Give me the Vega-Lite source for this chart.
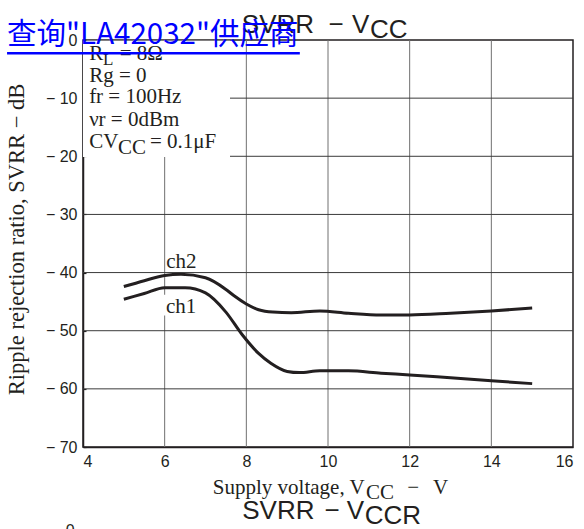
{
  "$schema": "https://vega.github.io/schema/vega-lite/v6.json",
  "width": 490,
  "height": 407,
  "autosize": {"type": "none"},
  "padding": {"left": 83, "top": 40, "right": 11, "bottom": 82},
  "background": "white",
  "config": {
    "view": {"stroke": "#231f20", "strokeWidth": 1.5},
    "axis": {"zindex": 1}
  },
  "data": {"values": [{}]},
  "datasets": {
    "curves": [
      {"ch": "ch2", "V": 5.0, "SVRR": -42.4},
      {"ch": "ch2", "V": 5.5, "SVRR": -41.4},
      {"ch": "ch2", "V": 6.0, "SVRR": -40.5},
      {"ch": "ch2", "V": 6.4, "SVRR": -40.3},
      {"ch": "ch2", "V": 7.0, "SVRR": -40.9},
      {"ch": "ch2", "V": 7.5, "SVRR": -42.9},
      {"ch": "ch2", "V": 7.7, "SVRR": -44.0},
      {"ch": "ch2", "V": 8.0, "SVRR": -45.4},
      {"ch": "ch2", "V": 8.3, "SVRR": -46.4},
      {"ch": "ch2", "V": 8.65, "SVRR": -46.8},
      {"ch": "ch2", "V": 9.1, "SVRR": -46.9},
      {"ch": "ch2", "V": 9.8, "SVRR": -46.6},
      {"ch": "ch2", "V": 10.5, "SVRR": -47.0},
      {"ch": "ch2", "V": 11.3, "SVRR": -47.3},
      {"ch": "ch2", "V": 12.0, "SVRR": -47.3},
      {"ch": "ch2", "V": 13.0, "SVRR": -47.0},
      {"ch": "ch2", "V": 14.0, "SVRR": -46.6},
      {"ch": "ch2", "V": 15.0, "SVRR": -46.1},
      {"ch": "ch1", "V": 5.0, "SVRR": -44.6},
      {"ch": "ch1", "V": 5.5, "SVRR": -43.6},
      {"ch": "ch1", "V": 6.0, "SVRR": -42.6},
      {"ch": "ch1", "V": 6.5, "SVRR": -42.6},
      {"ch": "ch1", "V": 7.0, "SVRR": -43.5},
      {"ch": "ch1", "V": 7.5, "SVRR": -46.8},
      {"ch": "ch1", "V": 7.9, "SVRR": -50.7},
      {"ch": "ch1", "V": 8.3, "SVRR": -53.9},
      {"ch": "ch1", "V": 8.6, "SVRR": -55.6},
      {"ch": "ch1", "V": 9.0, "SVRR": -57.0},
      {"ch": "ch1", "V": 9.3, "SVRR": -57.2},
      {"ch": "ch1", "V": 9.8, "SVRR": -56.9},
      {"ch": "ch1", "V": 10.5, "SVRR": -56.9},
      {"ch": "ch1", "V": 11.3, "SVRR": -57.3},
      {"ch": "ch1", "V": 12.0, "SVRR": -57.6},
      {"ch": "ch1", "V": 13.0, "SVRR": -58.1},
      {"ch": "ch1", "V": 14.0, "SVRR": -58.6},
      {"ch": "ch1", "V": 15.0, "SVRR": -59.1}
    ],
    "vgrid": [{"v": 6}, {"v": 8}, {"v": 10}, {"v": 12}, {"v": 14}],
    "hgrid": [{"v": -10}, {"v": -20}, {"v": -30}, {"v": -40}, {"v": -50}, {"v": -60}]
  },
  "layer": [
    {
      "data": {"name": "vgrid"},
      "mark": {"type": "rule", "color": "#707070", "strokeWidth": 1},
      "encoding": {
        "x": {"field": "v", "type": "quantitative", "title": null,
          "scale": {"domain": [4, 16], "nice": false, "zero": false},
          "axis": {"values": [4, 6, 8, 10, 12, 14, 16], "grid": false, "ticks": false,
            "domainColor": "#231f20", "domainWidth": 1.5, "labelFont": "Liberation Sans",
            "labelFontSize": 16, "labelColor": "#231f20", "labelPadding": 6, "title": null}}
      }
    },
    {
      "data": {"name": "hgrid"},
      "mark": {"type": "rule", "color": "#3a3a3a", "strokeWidth": 1},
      "encoding": {
        "y": {"field": "v", "type": "quantitative",
          "scale": {"domain": [-70, 0], "nice": false, "zero": false},
          "axis": {"values": [-70, -60, -50, -40, -30, -20, -10, 0], "grid": false,
            "tickSize": -3, "tickColor": "#231f20", "tickWidth": 1.2,
            "domainColor": "#231f20", "domainWidth": 1.5,
            "labelFont": "Liberation Sans", "labelFontSize": 16, "labelColor": "#231f20",
            "labelPadding": 9,
            "labelExpr": "datum.value == 0 ? '0' : '− ' + (-datum.value)",
            "title": "Ripple rejection ratio, SVRR    −    dB",
            "titleFont": "Liberation Serif", "titleFontSize": 22.5, "titleFontWeight": "normal",
            "titleColor": "#231f20", "titleX": -60, "titleY": 199, "titleBaseline": "alphabetic", "titleAngle": -90}}
      }
    },
    {
      "mark": {"type": "rect", "color": "white"},
      "encoding": {
        "x": {"datum": 4, "type": "quantitative"},
        "x2": {"datum": 7.6},
        "y": {"datum": -0.15, "type": "quantitative"},
        "y2": {"datum": -20.12}
      }
    },
    {
      "mark": {"type": "rect", "color": "white"},
      "encoding": {
        "x": {"datum": 5.9, "type": "quantitative"},
        "x2": {"datum": 6.75},
        "y": {"datum": -43.8, "type": "quantitative"},
        "y2": {"datum": -47.4}
      }
    },
    {
      "data": {"name": "curves"},
      "mark": {"type": "line", "color": "#231f20", "strokeWidth": 3, "interpolate": "monotone"},
      "encoding": {
        "x": {"field": "V", "type": "quantitative", "title": null},
        "y": {"field": "SVRR", "type": "quantitative", "title": "Ripple rejection ratio, SVRR    −    dB"},
        "detail": {"field": "ch"}
      }
    },
    {
      "mark": {"type": "text", "text": "ch2", "align": "left", "baseline": "alphabetic", "font": "Liberation Serif", "fontSize": 21, "color": "#231f20"},
      "encoding": {"x": {"datum": 6.04, "type": "quantitative"}, "y": {"datum": -39.2, "type": "quantitative"}}
    },
    {
      "mark": {"type": "text", "text": "ch1", "align": "left", "baseline": "alphabetic", "font": "Liberation Serif", "fontSize": 21, "color": "#231f20"},
      "encoding": {"x": {"datum": 6.03, "type": "quantitative"}, "y": {"datum": -46.9, "type": "quantitative"}}
    },
    {
      "mark": {"type": "text", "text": "R", "align": "left", "baseline": "alphabetic", "font": "Liberation Serif", "fontSize": 21, "color": "#231f20"},
      "encoding": {"x": {"datum": 4.15, "type": "quantitative"}, "y": {"datum": -3.43, "type": "quantitative"}}
    },
    {
      "mark": {"type": "text", "text": "L", "align": "left", "baseline": "alphabetic", "font": "Liberation Serif", "fontSize": 17, "color": "#231f20"},
      "encoding": {"x": {"datum": 4.49, "type": "quantitative"}, "y": {"datum": -4.29, "type": "quantitative"}}
    },
    {
      "mark": {"type": "text", "text": "= 8Ω", "align": "left", "baseline": "alphabetic", "font": "Liberation Serif", "fontSize": 21, "color": "#231f20"},
      "encoding": {"x": {"datum": 4.9, "type": "quantitative"}, "y": {"datum": -3.43, "type": "quantitative"}}
    },
    {
      "mark": {"type": "text", "text": "Rg = 0", "align": "left", "baseline": "alphabetic", "font": "Liberation Serif", "fontSize": 21, "color": "#231f20"},
      "encoding": {"x": {"datum": 4.15, "type": "quantitative"}, "y": {"datum": -7.15, "type": "quantitative"}}
    },
    {
      "mark": {"type": "text", "text": "fr = 100Hz", "align": "left", "baseline": "alphabetic", "font": "Liberation Serif", "fontSize": 21, "color": "#231f20"},
      "encoding": {"x": {"datum": 4.15, "type": "quantitative"}, "y": {"datum": -10.75, "type": "quantitative"}}
    },
    {
      "mark": {"type": "text", "text": "νr = 0dBm", "align": "left", "baseline": "alphabetic", "font": "Liberation Serif", "fontSize": 21, "color": "#231f20"},
      "encoding": {"x": {"datum": 4.15, "type": "quantitative"}, "y": {"datum": -14.87, "type": "quantitative"}}
    },
    {
      "mark": {"type": "text", "text": "CV", "align": "left", "baseline": "alphabetic", "font": "Liberation Serif", "fontSize": 21, "color": "#231f20"},
      "encoding": {"x": {"datum": 4.15, "type": "quantitative"}, "y": {"datum": -18.58, "type": "quantitative"}}
    },
    {
      "mark": {"type": "text", "text": "CC", "align": "left", "baseline": "alphabetic", "font": "Liberation Serif", "fontSize": 21, "color": "#231f20"},
      "encoding": {"x": {"datum": 4.86, "type": "quantitative"}, "y": {"datum": -19.55, "type": "quantitative"}}
    },
    {
      "mark": {"type": "text", "text": "= 0.1μF", "align": "left", "baseline": "alphabetic", "font": "Liberation Serif", "fontSize": 21, "color": "#231f20"},
      "encoding": {"x": {"datum": 5.64, "type": "quantitative"}, "y": {"datum": -18.58, "type": "quantitative"}}
    },
    {
      "mark": {"type": "text", "text": "Supply voltage, V", "align": "left", "baseline": "alphabetic", "font": "Liberation Serif", "fontSize": 21, "color": "#231f20"},
      "encoding": {"x": {"datum": 7.18, "type": "quantitative"}, "y": {"datum": -78.1, "type": "quantitative"}}
    },
    {
      "mark": {"type": "text", "text": "CC", "align": "left", "baseline": "alphabetic", "font": "Liberation Serif", "fontSize": 21, "color": "#231f20"},
      "encoding": {"x": {"datum": 10.93, "type": "quantitative"}, "y": {"datum": -79.0, "type": "quantitative"}}
    },
    {
      "mark": {"type": "text", "text": "−", "align": "left", "baseline": "alphabetic", "font": "Liberation Serif", "fontSize": 21, "color": "#231f20"},
      "encoding": {"x": {"datum": 11.94, "type": "quantitative"}, "y": {"datum": -78.1, "type": "quantitative"}}
    },
    {
      "mark": {"type": "text", "text": "V", "align": "left", "baseline": "alphabetic", "font": "Liberation Serif", "fontSize": 21, "color": "#231f20"},
      "encoding": {"x": {"datum": 12.57, "type": "quantitative"}, "y": {"datum": -78.1, "type": "quantitative"}}
    },
    {
      "mark": {"type": "text", "text": "SVRR", "align": "left", "baseline": "alphabetic", "font": "Liberation Sans", "fontSize": 26, "color": "#231f20"},
      "encoding": {"x": {"datum": 7.89, "type": "quantitative"}, "y": {"datum": 1.2, "type": "quantitative"}}
    },
    {
      "mark": {"type": "text", "text": "−", "align": "center", "baseline": "alphabetic", "font": "Liberation Sans", "fontSize": 26, "color": "#231f20"},
      "encoding": {"x": {"datum": 10.2, "type": "quantitative"}, "y": {"datum": 1.2, "type": "quantitative"}}
    },
    {
      "mark": {"type": "text", "text": "V", "align": "left", "baseline": "alphabetic", "font": "Liberation Sans", "fontSize": 26, "color": "#231f20"},
      "encoding": {"x": {"datum": 10.59, "type": "quantitative"}, "y": {"datum": 1.2, "type": "quantitative"}}
    },
    {
      "mark": {"type": "text", "text": "CC", "align": "left", "baseline": "alphabetic", "font": "Liberation Sans", "fontSize": 26, "color": "#231f20"},
      "encoding": {"x": {"datum": 11.03, "type": "quantitative"}, "y": {"datum": 0.34, "type": "quantitative"}}
    },
    {
      "mark": {"type": "text", "text": "SVRR", "align": "left", "baseline": "alphabetic", "font": "Liberation Sans", "fontSize": 26, "color": "#231f20"},
      "encoding": {"x": {"datum": 7.9, "type": "quantitative"}, "y": {"datum": -82.4, "type": "quantitative"}}
    },
    {
      "mark": {"type": "text", "text": "−", "align": "center", "baseline": "alphabetic", "font": "Liberation Sans", "fontSize": 26, "color": "#231f20"},
      "encoding": {"x": {"datum": 10.1, "type": "quantitative"}, "y": {"datum": -82.4, "type": "quantitative"}}
    },
    {
      "mark": {"type": "text", "text": "V", "align": "left", "baseline": "alphabetic", "font": "Liberation Sans", "fontSize": 26, "color": "#231f20"},
      "encoding": {"x": {"datum": 10.46, "type": "quantitative"}, "y": {"datum": -82.4, "type": "quantitative"}}
    },
    {
      "mark": {"type": "text", "text": "CCR", "align": "left", "baseline": "alphabetic", "font": "Liberation Sans", "fontSize": 26, "color": "#231f20"},
      "encoding": {"x": {"datum": 10.9, "type": "quantitative"}, "y": {"datum": -83.2, "type": "quantitative"}}
    },
    {
      "mark": {"type": "text", "text": "0", "align": "left", "baseline": "alphabetic", "font": "Liberation Sans", "fontSize": 16, "color": "#231f20"},
      "encoding": {"x": {"datum": 3.58, "type": "quantitative"}, "y": {"datum": -85.3, "type": "quantitative"}}
    },
    {
      "mark": {"type": "text", "text": "查询\"LA42032\"供应商", "align": "left", "baseline": "alphabetic", "font": "Noto Sans CJK SC", "fontSize": 29.5, "color": "#0000ff"},
      "encoding": {"x": {"datum": 2.14, "type": "quantitative"}, "y": {"datum": -0.69, "type": "quantitative"}}
    },
    {
      "mark": {"type": "rule", "color": "#0000ff", "strokeWidth": 2.5},
      "encoding": {
        "x": {"datum": 2.14, "type": "quantitative"},
        "x2": {"datum": 9.31},
        "y": {"datum": -2.3, "type": "quantitative"}
      }
    }
  ]
}
